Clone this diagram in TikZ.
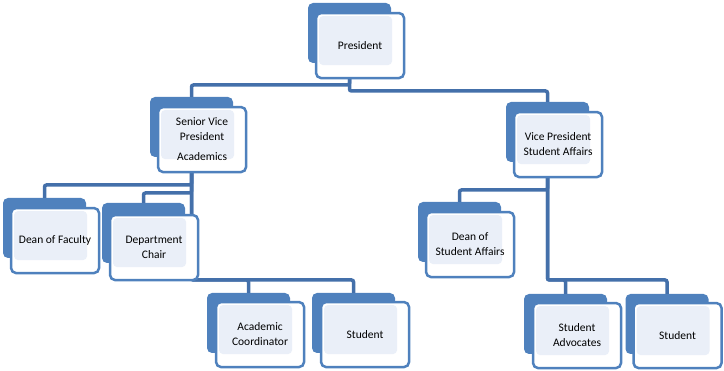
\documentclass[tikz,border=0pt]{standalone}
\usepackage{fontspec}
\setmainfont{Carlito}
\definecolor{boxblue}{HTML}{4F81BD}
\definecolor{boxlight}{HTML}{EAEFF8}
\definecolor{linkblue}{HTML}{4470AA}
\begin{document}
\begin{tikzpicture}[x=1pt, y=-1pt]
\tikzset{ back/.style={fill=boxblue, rounded corners=5pt, minimum width=83pt, minimum height=60pt, inner sep=0pt},
  front/.style={draw=boxblue, line width=2.5pt, fill=white, rounded corners=5pt, minimum width=88pt, minimum height=65pt,
    inner sep=0pt, align=center, anchor=north west, font=\fontsize{11.5}{15}\selectfont,
    path picture={\fill[boxlight, rounded corners=4pt] ([shift={(3,3)}]path picture bounding box.north west)
      rectangle ([shift={(-12,-13)}]path picture bounding box.south east);}},
  link/.style={draw=linkblue, line width=3.5pt, rounded corners=2pt} }

\useasboundingbox (0,0) rectangle (724,371);

%\draw [lightgray, dashed](0,0) grid[step=50] (724,371);

% back plates
\node [back] (pres-b)  at (349.5,33)  {};
\node [back] (svp-b)   at (191.5,127) {};
\node [back] (vp-b)    at (547.5,132) {};
\node [back] (deanf-b) at (44.5,228)  {};
\node [back] (dept-b)  at (143.5,233) {};
\node [back] (dsa-b)   at (459.5,232) {};
\node [back] (acad-b)  at (248.5,323) {};
\node [back] (stua-b)  at (353.5,323) {};
\node [back] (adv-b)   at (565.5,324) {};
\node [back] (stub-b)  at (667,324)   {};

% connectors
\draw [link] (pres-b.south |- 0,77)  -- ++(0,8)   -| (svp-b.north);
\draw [link] (pres-b.south |- 0,77)  -- ++(0,14)  -| (vp-b.north);
\draw [link] (svp-b.south |- 0,171)  -- ++(0,14)  -| (deanf-b.north);
\draw [link] (svp-b.south |- 0,171)  -- ++(0,22)  -| (dept-b.north);
\draw [link] (svp-b.south |- 0,171)  -- ++(0,109) -| (acad-b.north);
\draw [link] (svp-b.south |- 0,171)  -- ++(0,109) -| (stua-b.north);
\draw [link] (vp-b.south |- 0,176)   -- ++(0,14)  -| (dsa-b.north);
\draw [link] (vp-b.south |- 0,176)   -- ++(0,104) -| (adv-b.north);
\draw [link] (vp-b.south |- 0,176)   -- ++(0,104) -| (stub-b.north);

% front cards
\node [front] (pres)  at ([shift={(7,9)}]pres-b.north west)  {President};
\node [front] (svp)   at ([shift={(7,9)}]svp-b.north west)   {Senior Vice\\President\\[5pt]Academics};
\node [front] (vp)    at ([shift={(7,9)}]vp-b.north west)    {Vice President\\Student Affairs};
\node [front] (deanf) at ([shift={(7,9)}]deanf-b.north west) {Dean of Faculty};
\node [front] (dept)  at ([shift={(7,11)}]dept-b.north west) {Department\\Chair};
\node [front] (dsa)   at ([shift={(7,9)}]dsa-b.north west)   {Dean of\\Student Affairs};
\node [front] (acad)  at ([shift={(8,8)}]acad-b.north west)  {Academic\\Coordinator};
\node [front] (stua)  at ([shift={(8,8)}]stua-b.north west)  {Student};
\node [front] (adv)   at ([shift={(8,8)}]adv-b.north west)   {Student\\Advocates};
\node [front] (stub)  at ([shift={(7,8)}]stub-b.north west)  {Student};

\end{tikzpicture}
\end{document}
